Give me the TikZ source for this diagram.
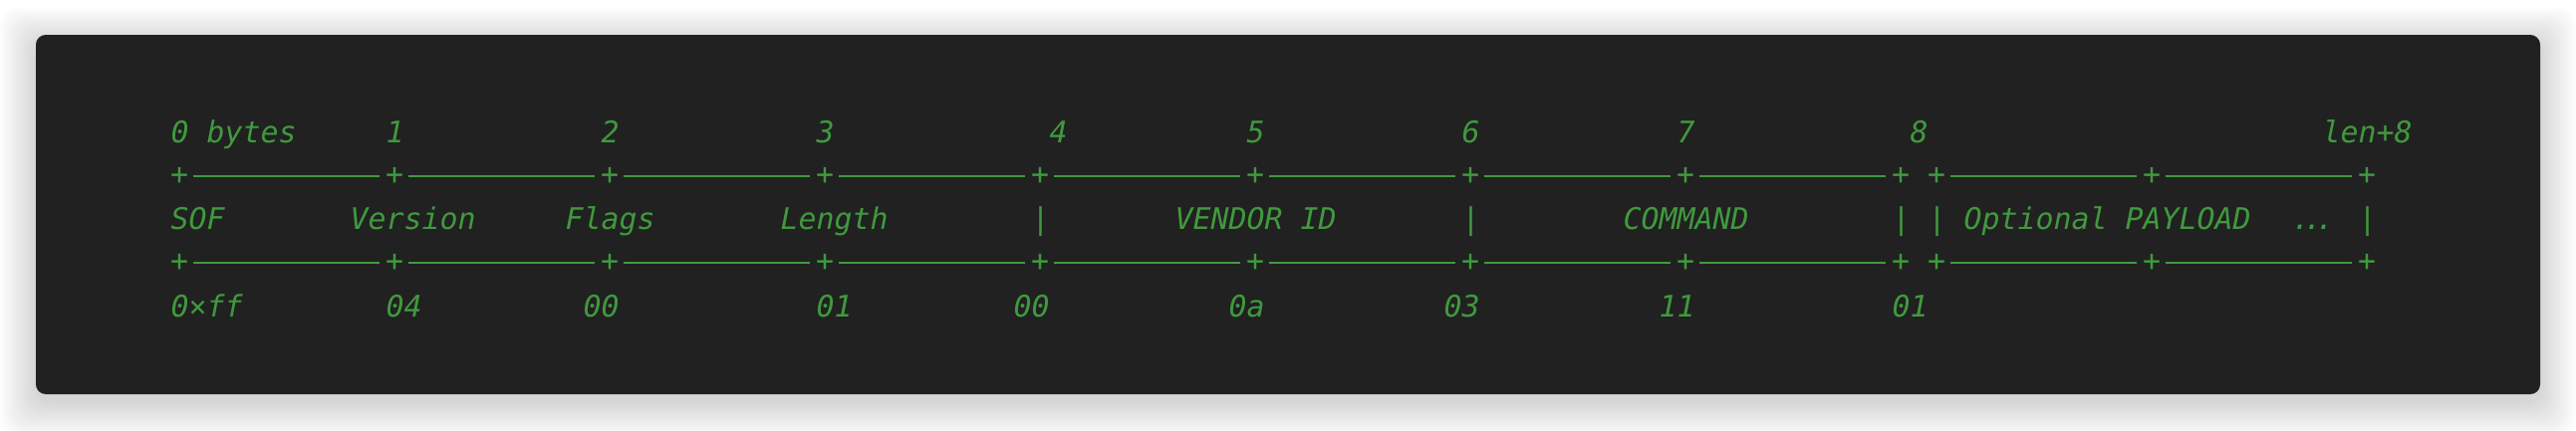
\documentclass[tikz,border=0pt]{standalone}
\usepackage{fontspec}
\usepackage{xcolor}
\usepackage{tikz}
\newfontfamily\codefont{DejaVu Sans Mono}

\definecolor{panelgray}{RGB}{33,33,33}
\definecolor{codegreen}{RGB}{64,153,62}

\begin{document}
\begin{tikzpicture}[x=0.01cm, y=-0.01cm,
    code/.style={font=\codefont\itshape\fontsize{8.5}{10}\selectfont, text=codegreen, inner sep=0pt, anchor=base west},
    plus/.style={code, anchor=center},
    rule/.style={codegreen, line width=0.7pt, shorten <=1.1pt, shorten >=1.4pt}]

    % Page and soft shadow
    \useasboundingbox (0,0) rectangle (2586,432);
    \fill[white] (0,0) rectangle (2586,432);
    \foreach \i in {1,...,20}
        \fill[black, opacity=0.009, rounded corners=5pt] ({36-1.8*\i},{43-1.8*\i}) rectangle ({2550+1.8*\i},{404+1.8*\i});

    % Terminal panel
    \fill[panelgray, rounded corners=2.8pt] (36,35) rectangle (2550,396);

    % Byte offsets
    \foreach \c/\t [count=\k] in {0/0 bytes, 12/1, 24/2, 36/3, 49/4, 60/5, 72/6, 84/7, 97/8, 120/len+8}
        \node[code] (off\k) at ({171+18*\c},143) {\t};

    % Top and bottom borders
    \foreach \c [count=\k] in {0,12,24,36,48,60,72,84,96,98,110,122} {
        \node[plus] (top\k) at ({180+18*\c},177) {+};
        \node[plus] (bot\k) at ({180+18*\c},264) {+};
    }
    \foreach \a/\b in {1/2, 2/3, 3/4, 4/5, 5/6, 6/7, 7/8, 8/9, 10/11, 11/12} {
        \draw[rule] (top\a) -- (top\b);
        \draw[rule] (bot\a) -- (bot\b);
    }

    % Field names
    \foreach \c/\t [count=\k] in {0/SOF, 10/Version, 22/Flags, 34/Length, 48/|, 56/VENDOR ID, 72/|, 81/COMMAND, 96/|, 98/|, 100/Optional PAYLOAD, 122/|}
        \node[code] (field\k) at ({171+18*\c},230) {\t};
    \node[code, anchor=base] (dots) at (2322,230) {.\kern-.2em.\kern-.2em.};

    % Byte values
    \foreach \c/\t [count=\k] in {0/0×ff, 12/04, 23/00, 36/01, 47/00, 59/0a, 71/03, 83/11, 96/01}
        \node[code] (val\k) at ({171+18*\c},318) {\t};
\end{tikzpicture}
\end{document}
